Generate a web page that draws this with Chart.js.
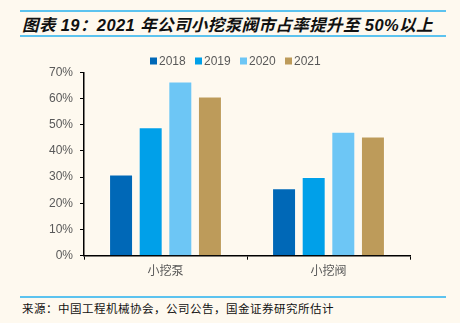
<!DOCTYPE html>
<html>
<head>
<meta charset="utf-8">
<script src="https://cdn.jsdelivr.net/npm/chart.js@4"></script>
<style>
  html, body { margin: 0; padding: 0; }
  body { width: 460px; height: 323px; background: #fef9ef; position: relative; overflow: hidden; }
  .rule { position: absolute; left: 20px; width: 426px; height: 2px; background: #5cc3ef; }
  #title {
    position: absolute; left: 22px; top: 12px; height: 23px; line-height: 23px;
    font: italic bold 16.5px "Liberation Sans", "Noto Sans CJK SC", sans-serif; color: #111;
    letter-spacing: 0.4px; white-space: nowrap;
  }
  #source {
    position: absolute; left: 22px; top: 300px;
    font: 11.5px "Noto Sans CJK SC", sans-serif; color: #111; letter-spacing: 0.5px;
    white-space: nowrap;
  }
  #wrap { position: absolute; left: 0; top: 40px; width: 460px; height: 250px; }
</style>
</head>
<body>
<div class="rule" style="top:10px"></div>
<div id="title">图表 19：2021 年公司小挖泵阀市占率提升至 50%以上</div>
<div class="rule" style="top:35px"></div>
<div id="wrap"><canvas id="chart"></canvas></div>
<div class="rule" style="top:296px"></div>
<div id="source">来源：中国工程机械协会，公司公告，国金证券研究所估计</div>
<script>
const categories = ["小挖泵", "小挖阀"];
const years = ["2018", "2019", "2020", "2021"];
const share2018 = [31, 25.7];
const share2019 = [49, 30];
const share2020 = [66.5, 47.3];
const share2021 = [60.8, 45.5];
const yTicks = [0, 10, 20, 30, 40, 50, 60, 70];
const colors = ["#0068b7", "#00a0e9", "#6dc6f5", "#bd9b5a"];

const tickColor = "#595959";
const font = { family: '"Liberation Sans", "Noto Sans CJK SC", sans-serif', size: 12 };

// legend drawn at a fixed spot above the plot
const topLegend = {
  id: "topLegend",
  afterDraw(chart) {
    const ctx = chart.ctx;
    ctx.save();
    ctx.font = "12px " + font.family;
    ctx.textBaseline = "middle";
    let x = 150;
    const y = 21;
    chart.data.datasets.forEach(ds => {
      ctx.fillStyle = ds.backgroundColor;
      ctx.fillRect(x, y - 3.5, 7, 7);
      ctx.fillStyle = tickColor;
      ctx.fillText(ds.label, x + 9, y + 0.5);
      x += 45;
    });
    ctx.restore();
  }
};

const seriesData = [share2018, share2019, share2020, share2021];

new Chart(document.getElementById("chart"), {
  type: "bar",
  data: {
    labels: categories,
    datasets: years.map((y, i) => ({
      label: y,
      data: seriesData[i],
      backgroundColor: colors[i],
      borderColor: "rgba(255,255,255,0.35)",
      borderWidth: 1,
      categoryPercentage: 0.727,
      barPercentage: 0.81
    }))
  },
  options: {
    responsive: true,
    maintainAspectRatio: false,
    animation: false,
    layout: { padding: { top: 32.3, right: 50, left: 0, bottom: 0 } },
    plugins: {
      legend: { display: false },
      tooltip: { enabled: false }
    },
    scales: {
      x: {
        grid: { drawOnChartArea: false, drawTicks: true, tickLength: 4, color: "#000", offset: true },
        border: { display: true, color: "#000", width: 1.5 },
        ticks: { color: tickColor, font: font, padding: 5 },
        afterFit(scale) { scale.height = 34.3; }
      },
      y: {
        min: 0,
        max: 70,
        afterBuildTicks(scale) { scale.ticks = yTicks.map(v => ({ value: v })); },
        grid: { drawOnChartArea: false, drawTicks: true, tickLength: 4, color: "#000" },
        border: { display: true, color: "#000", width: 1.5 },
        ticks: { color: tickColor, font: font, padding: 7, callback: v => v + "%" },
        afterFit(scale) { scale.width = 84; }
      }
    }
  },
  plugins: [topLegend]
});
</script>
</body>
</html>
